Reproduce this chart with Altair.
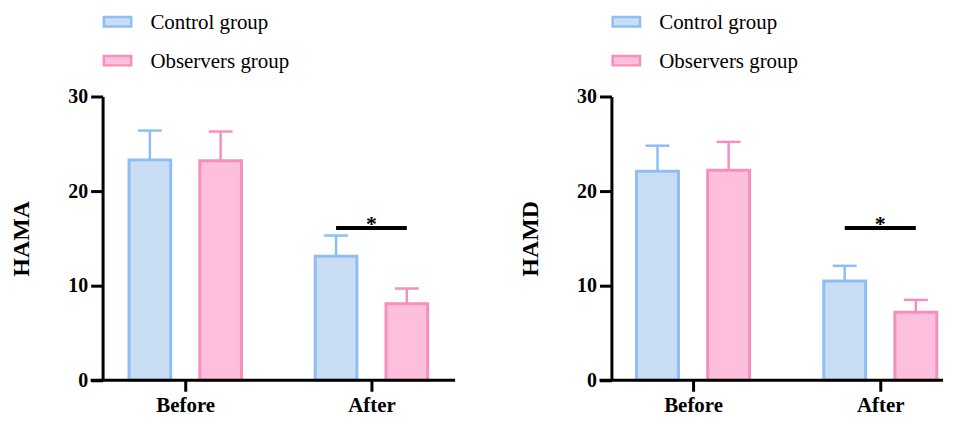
import altair as alt
import pandas as pd

periods = ["Before", "After"]
groups = ["Control group", "Observers group"]
# order: Control-Before, Observers-Before, Control-After, Observers-After
hama_mean = [23.3, 23.2, 13.1, 8.1]
hama_sd = [3.1, 3.1, 2.2, 1.6]
hamd_mean = [22.1, 22.2, 10.5, 7.2]
hamd_sd = [2.7, 3.0, 1.6, 1.3]
hama_sig = 16.1
hamd_sig = 16.1
fill_colors = ["#C9DDF4", "#FDBFDC"]
stroke_colors = ["#8DBEF4", "#F58FBE"]

SERIF = "Liberation Serif"
H = 285
GROUP_OFF = [-0.19, 0.19]   # bar centre offset from period tick, in period steps
BAR_HALF = 0.112            # half bar width, in period steps
CAP_HALF = 0.064            # half error-cap width, in period steps


def panel(title, means, sds, sig, width, first_px, step_px):
    rows = []
    i = 0
    for pi, p in enumerate(periods):
        for k, g in enumerate(groups):
            xc = pi + GROUP_OFF[k]
            rows.append({"Period": p, "Group": g, "mean": means[i],
                         "upper": means[i] + sds[i], "xc": xc,
                         "x0": xc - BAR_HALF, "x1": xc + BAR_HALF,
                         "c0": xc - CAP_HALF, "c1": xc + CAP_HALF})
            i += 1
    df = pd.DataFrame(rows)
    ai = periods.index("After")
    sig_df = pd.DataFrame({"s0": [ai + GROUP_OFF[0]], "s1": [ai + GROUP_OFF[1]],
                           "sc": [ai], "level": [sig]})

    xscale = alt.Scale(domain=[-first_px / step_px, (width - first_px) / step_px],
                       nice=False, zero=False)
    xaxis = alt.Axis(title=None, values=list(range(len(periods))),
                     labelExpr=f"{periods}[round(datum.value)]",
                     domain=False, grid=False, ticks=True, tickSize=11, tickWidth=3,
                     tickColor="black", labelFont=SERIF, labelFontSize=21,
                     labelFontWeight="bold", labelColor="black", labelPadding=3,
                     labelAngle=0, labelFlush=False, labelOverlap=False)
    yscale = alt.Scale(domain=[0, 30], nice=False)
    yaxis = alt.Axis(title=title, values=[0, 10, 20, 30], grid=False, domainWidth=3,
                     domainColor="black", tickWidth=3, tickSize=12, tickColor="black",
                     labelFont=SERIF, labelFontSize=20, labelFontWeight="bold",
                     labelColor="black", labelPadding=3, titleFont=SERIF, titleFontSize=24,
                     titleFontWeight="bold", titleColor="black", titlePadding=34)
    fill = alt.Fill("Group:N", scale=alt.Scale(domain=groups, range=fill_colors), legend=None)
    stroke = alt.Stroke("Group:N", scale=alt.Scale(domain=groups, range=stroke_colors), legend=None)

    base = alt.Chart(df)
    bars = base.mark_bar(strokeWidth=3).encode(
        x=alt.X("x0:Q", scale=xscale, axis=xaxis, title=None), x2="x1:Q",
        y=alt.Y("mean:Q", scale=yscale, axis=yaxis, title=title), y2=alt.datum(0),
        fill=fill, stroke=stroke)
    err = base.mark_rule(strokeWidth=2.5).encode(
        x=alt.X("xc:Q", title=None), y=alt.Y("mean:Q", title=title), y2="upper:Q",
        stroke=stroke)
    caps = base.mark_rule(strokeWidth=2.5).encode(
        x=alt.X("c0:Q", title=None), x2="c1:Q", y=alt.Y("upper:Q", title=title),
        stroke=stroke)

    sb = alt.Chart(sig_df)
    sig_line = sb.mark_rule(strokeWidth=4, color="black").encode(
        x=alt.X("s0:Q", title=None), x2="s1:Q", y=alt.Y("level:Q", title=title))
    star = sb.mark_text(text="*", font=SERIF, fontSize=22, fontWeight="bold",
                        baseline="middle", dy=-4, color="black").encode(
        x=alt.X("sc:Q", title=None), y=alt.Y("level:Q", title=title))
    xline = sb.mark_rule(strokeWidth=3, color="black").encode(
        x=alt.value(-12), x2=alt.value(width), y=alt.datum(0))

    # legend (top-left, above the plot)
    leg = []
    sw_y = [(-79.75, -70.25), (-40.75, -31.25)]
    tx_y = [-68, -29]
    for k, g in enumerate(groups):
        leg.append(sb.mark_rect(fill=fill_colors[k], stroke=stroke_colors[k],
                                strokeWidth=2.5).encode(
            x=alt.value(1.25), x2=alt.value(28.75),
            y=alt.value(sw_y[k][0]), y2=alt.value(sw_y[k][1])))
        leg.append(sb.mark_text(text=g, font=SERIF, fontSize=21, align="left",
                                baseline="alphabetic", color="black").encode(
            x=alt.value(48), y=alt.value(tx_y[k])))

    return alt.layer(bars, err, caps, xline, sig_line, star, *leg).properties(
        width=width, height=H)


left = panel("HAMA", hama_mean, hama_sd, hama_sig, 354, 83, 187)
right = panel("HAMD", hamd_mean, hamd_sd, hamd_sig, 333, 82, 188)

chart = alt.hconcat(left, right, spacing=62).resolve_scale(
    fill="independent", stroke="independent", x="independent", y="independent"
).properties(
    padding={"left": 2, "top": 3, "right": 0, "bottom": 0}
).configure_view(stroke=None)

chart.save("out.html", embed_options={"renderer": "svg", "actions": False})
